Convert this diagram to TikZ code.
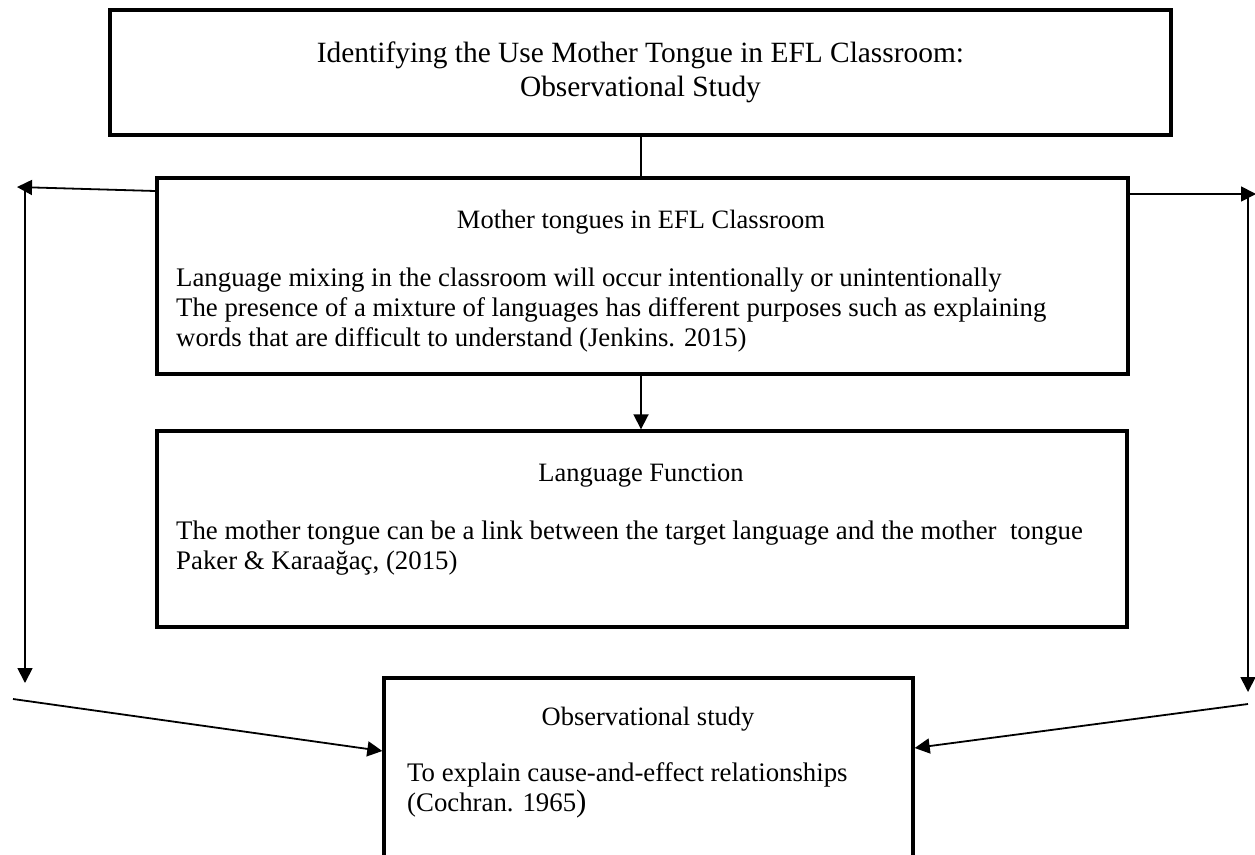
\documentclass[tikz,border=0pt]{standalone}
\usepackage{fontspec}
\setmainfont{Liberation Serif}
\usetikzlibrary{arrows.meta}

\begin{document}
\begin{tikzpicture}
    [x=1pt, y=-1pt,
    box/.style={draw, line width=3.4pt, inner sep=0pt},
    link/.style={line width=1.8pt},
    ->-/.style={link, -{Triangle[length=15pt,width=15pt]}},
    head/.style={inner sep=0pt, font=\fontsize{26.5}{30}\selectfont},
    body/.style={inner sep=0pt, anchor=west, align=left, font=\fontsize{26.8}{30}\selectfont}]
        \clip (0,0) rectangle (1255,854);

        \node[box, minimum width=1061pt, minimum height=125pt, align=center,
              font=\fontsize{29.4}{34}\selectfont] (title) at (640.5,72.5)
              {Identifying the Use Mother Tongue in EFL Classroom:\\Observational Study};

        \node[box, minimum width=971pt, minimum height=196pt] (mix) at (642.5,276) {};
        \node[head] (mixhead) at (641,222) {Mother tongues in EFL Classroom};
        \node[body] (mixtext) at (176,310) {Language mixing in the classroom will occur intentionally or unintentionally\\
            The presence of a mixture of languages has different purposes such as explaining\\
            words that are difficult to understand (Jenkins. 2015)};

        \node[box, minimum width=970pt, minimum height=196pt] (func) at (642,529) {};
        \node[head] (funchead) at (641,476) {Language Function};
        \node[body] (functext) at (176,548) {The mother tongue can be a link between the target language and the mother\ \ tongue\\
            Paker \& Karaağaç, (2015)};

        \node[box, minimum width=529pt, minimum height=200pt] (obs) at (648.5,778) {};
        \node[head] (obshead) at (648,719) {Observational study};
        \node[body] (obstext) at (407,790) {To explain cause-and-effect relationships\\
            (Cochran. 1965{\fontsize{31}{30}\selectfont)}};

        % side routes
        \coordinate (ltop) at (17,187);
        \coordinate (lvtop) at (25,187);
        \coordinate (lvbot) at (25,683);
        \coordinate (lslant) at (13,699);
        \coordinate (rtop) at (1256,194);
        \coordinate (rvtop) at (1248,194);
        \coordinate (rvbot) at (1248,692);
        \coordinate (rslant) at (1248,704);

        \draw[link] (title.south -| 641,0) -- (mix.north -| 641,0);
        \draw[->-] (mix.south -| 641,0) -- (func.north -| 641,0);

        \draw[->-] (mix.west |- 0,191) -- (ltop);
        \draw[->-] (lvtop) -- (lvbot);
        \draw[->-] (lslant) -- (obs.west |- 0,751);

        \draw[->-] (mix.east |- 0,194) -- (rtop);
        \draw[->-] (rvtop) -- (rvbot);
        \draw[->-] (rslant) -- (obs.east |- 0,748);
\end{tikzpicture}
\end{document}
